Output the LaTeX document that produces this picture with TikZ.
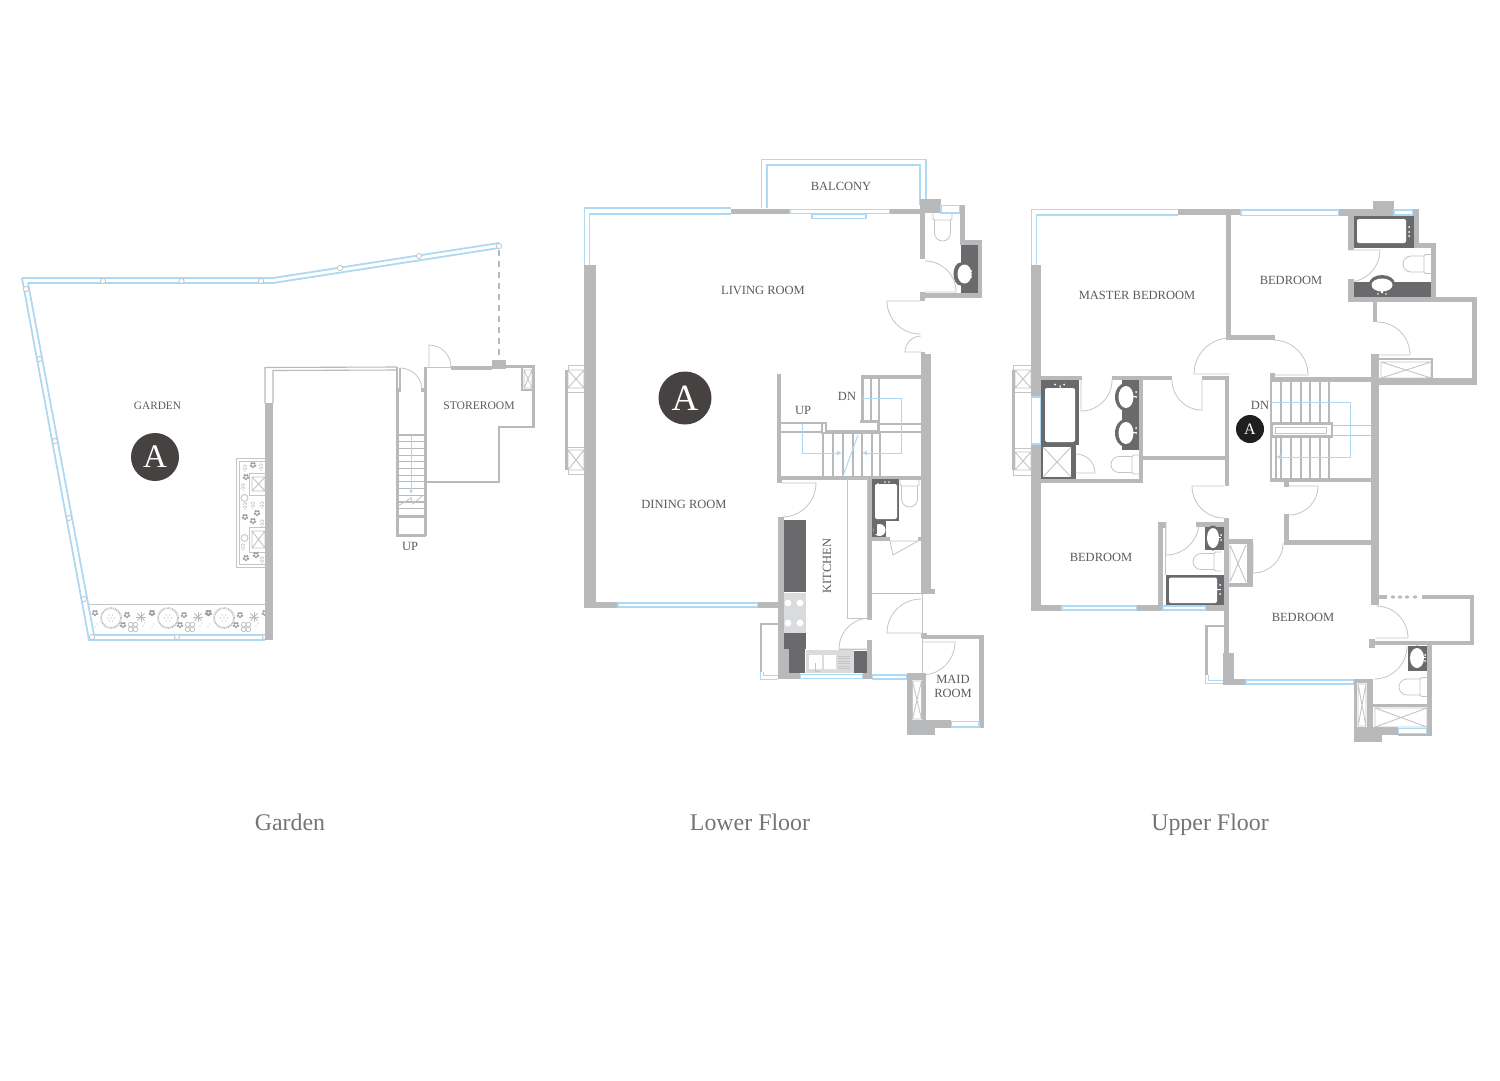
\documentclass[tikz,border=0pt]{standalone}
\usepackage{fontspec}
\usetikzlibrary{arrows.meta}
\setmainfont{Liberation Serif}
\definecolor{wallc}{HTML}{B8B9BB}
\definecolor{darkc}{HTML}{6A6A6D}
\definecolor{bluec}{HTML}{AFD9F2}
\definecolor{thinc}{HTML}{C4C5C7}
\definecolor{textc}{HTML}{5B5B5D}
\definecolor{titlec}{HTML}{757577}
\definecolor{badgec}{HTML}{464242}
\definecolor{floorc}{HTML}{DADBDC}
\tikzset{
 thinl/.style={draw=thinc,line width=0.9pt},
 wl/.style={draw=wallc,line width=1.6pt},
 bl/.style={draw=bluec,line width=1.4pt},
 blg/.style={draw=bluec,line width=1.8pt},
 blt/.style={draw=bluec,line width=1pt},
 doorl/.style={draw=thinc,line width=0.8pt},
 roomlab/.style={text=textc,font=\fontsize{12.5}{13}\selectfont,inner sep=0pt,align=center},
 title/.style={text=titlec,font=\fontsize{23.9}{25}\selectfont,inner sep=0pt,anchor=base},
 bdg/.style={circle,fill=badgec,text=white,inner sep=0pt},
 post/.style={draw=thinc,fill=white,line width=0.8pt},
 flowc/.style={fill=wallc!85!black}
}
\newcommand\WL[4]{\fill[wallc] (#1,#2) rectangle (#3,#4);}
\newcommand\DK[4]{\fill[darkc] (#1,#2) rectangle (#3,#4);}
\newcommand\WN[4]{\draw[bl,fill=white] (#1,#2) rectangle (#3,#4);}
\newcommand\Door[5]{\draw[doorl] (#1,#2) -- ++(#3:#5) arc[start angle=#3,end angle=#4,radius=#5];}
\newcommand\XBox[4]{\draw[thinl] (#1,#2) rectangle (#3,#4) (#1,#2) -- (#3,#4) (#1,#4) -- (#3,#2);}
\newcommand\Post[2]{\draw[post] (#1,#2) circle[radius=2.6];}
\newcommand\ToiletD[3]{\begin{scope}[shift={(#1,#2)},rotate=#3]
 \draw[doorl,rounded corners=1.5pt] (-9.5,0) -- (-9.5,7) -- (9.5,7) -- (9.5,0);
 \draw[doorl] (-8,7) -- (-8,20) arc[start angle=180,end angle=0,radius=8] -- (8,7);
 \end{scope}}
\newcommand\Sink[6]{\fill[darkc] (#1,#2) ellipse[x radius=#3,y radius=#4];
 \fill[white] (#1+#5,#2) ellipse[x radius=#3-2,y radius=#4-2.5];
 \fill[white] (#1+#5+1,#2-1) rectangle (#1+#5+#6,#2);}
\newcommand\Fl[2]{\foreach \a in {0,72,...,288}{\fill[flowc] (#1,#2) ++(\a+90:2.1) circle[radius=1.35];}}
\newcommand\Sp[2]{\fill[flowc] (#1-1.6,#2-2) circle[radius=.6] (#1+1.2,#2-2) circle[radius=.6] (#1-1.6,#2+1) circle[radius=.6] (#1+1.2,#2+1) circle[radius=.6] (#1,#2-3) circle[radius=.6] (#1,#2) circle[radius=.6] (#1,#2+3) circle[radius=.6];}
\newcommand\Star[2]{\foreach \a in {0,45,...,315}{\draw[wallc,line width=.9pt] (#1,#2) -- ++(\a:5);}}
\newcommand\Clv[2]{\foreach \dx/\dy in {-2.4/-2.4,2.4/-2.4,-2.4/2.4,2.4/2.4}{\draw[wallc,line width=.6pt] (#1+\dx,#2+\dy) circle[radius=2.4];}}
\newcommand\Wreath[2]{\draw[wallc,line width=.9pt,densely dotted] (#1,#2) circle[radius=10.5];
 \draw[wallc,line width=.5pt] (#1,#2) circle[radius=9.5];
 \foreach \a in {0,60,...,300}{\fill[wallc] (#1,#2) ++(\a:3.5) circle[radius=.7];}\fill[wallc] (#1,#2) circle[radius=.7];}
\newcommand\Bed[3]{\Wreath{#1}{#2}\Fl{#1-16}{#2-5}\Fl{#1+16}{#2-3}\Star{#1+30}{#2-1}\Fl{#1+41}{#2-5}\Fl{#1+12}{#2+7}\Clv{#1+22}{#2+9}
 \fill[wallc] (#1-16,#2+9) circle[radius=.6] (#1-14,#2+6) circle[radius=.6] (#1+4,#2+9) circle[radius=.6] (#1+32,#2+8) circle[radius=.6] (#1+34,#2+5) circle[radius=.6];}
\begin{document}
\begin{tikzpicture}[x=1pt,y=-1pt]
\useasboundingbox (0,0) rectangle (1500,1080);
\fill[white] (0,0) rectangle (1500,1080);
%%%%%%%%%% GARDEN
\draw[blg,line join=miter] (22,278) -- (273,278) -- (499,243);
\draw[blg] (28,283) -- (273,283) -- (499,248);
\draw[blg] (22,278) -- (89,640) -- (265,640);
\draw[blg] (28,283) -- (94,635) -- (265,635);
\draw[wallc,line width=1.6pt,dashed,dash pattern=on 6pt off 5pt] (499,250) -- (499,360);
\foreach \px/\py in {103/281,181.5/281,261/281,340/268,419/256,499/246,26/289,39.5/359,55/441,69/518,84/599,92/637,177/637,265/637}{\Post{\px}{\py}}
\draw[thinl] (89,604) -- (265,604);
\Bed{111}{618}{} \Bed{168}{618}{} \Bed{224}{618}{}
% side planter
\draw[thinl] (265,458) -- (236,458) -- (236,567) -- (265,567);
\draw[thinl] (265,461) -- (239,461) -- (239,564) -- (265,564);
\draw[thinl] (249,473) rectangle (265,495);
\XBox{252}{477}{265}{491}
\draw[thinl] (249,527) rectangle (265,552);
\XBox{252}{531}{265}{548}
\foreach \px/\py in {253/465,246/477,245/517,257/513,253/521,246/558,256/555}{\Fl{\px}{\py}}
\foreach \px/\py in {245/468,261/467,243/487,245/506,253/505,262/505,243/547,262/523,262/560}{\Sp{\px}{\py}}
\draw[thinl] (244.5,498) circle[radius=3.5];
\draw[thinl] (244.5,538) circle[radius=3.5];
% garden house walls
\WL{265}{403}{273}{640}
\draw[wl,line width=1.1pt] (265,403) -- (265,367.5) -- (397,367);
\draw[wl,line width=1.1pt] (273,403) -- (273,370.5) -- (397,370);
% stair shaft
\WL{396}{390}{399}{536} \WL{424}{367}{427}{536}
\draw[wl,line width=1.1pt] (397,367) -- (397,390) (400,368) -- (400,390);
\WL{396}{388}{401}{392} \WL{421}{388}{426}{392}
\Door{400}{390}{270}{360}{22}
\foreach \n in {0,...,11}{\draw[wl,line width=1.1pt] (397,435+\n*6.7) -- (425,435+\n*6.7);}
\WL{396}{515}{426}{518} \WL{396}{534}{426}{537}
\draw[thinl] (398,506) -- (411,498) -- (413,504) -- (423,495);
\draw[blt,-{Latex[length=4pt,width=4pt]}] (411,436) -- (411,494);
% storeroom
\draw[doorl] (426,367) -- (451,367);
\Door{429}{367}{270}{360}{22}
\WL{451}{366}{492}{370} \WL{492}{360}{506}{369} \WL{506}{365}{535}{368}
\WL{532}{365}{535}{428} \WL{498}{426}{535}{428} \WL{498}{426}{500}{483} \WL{426}{481}{500}{483}
\WL{521}{367}{523}{391} \WL{521}{389}{533}{391}
\draw[thinl] (524,370) rectangle (532,388) (524,370) -- (532,388) (524,388) -- (532,370);
\WL{425}{367}{427}{372}
\node[roomlab,font=\fontsize{11.3}{12}\selectfont] (lgarden) at (157.5,405.5) {GARDEN};
\node[bdg,minimum size=48pt,font=\fontsize{33}{33}\selectfont] (bgarden) at (155,457) {A};
\node[roomlab,font=\fontsize{11.6}{12}\selectfont] (lstore) at (479,405.5) {STOREROOM};
\node[roomlab] (lupg) at (410,546) {UP};
\node[title] (tgarden) at (290,830) {Garden};
%%%%%%%%%% LOWER FLOOR
% balcony & glazing
\draw[bl] (761.5,208) -- (761.5,159.5) -- (926,159.5) -- (926,199);
\draw[bl] (767,208) -- (767,165) -- (920,165) -- (920,205);
\draw[bl] (731,208) -- (584.5,208) -- (584.5,265);
\draw[bl] (731,214) -- (589.5,214) -- (589.5,265);
\WL{584}{265}{596}{608} \WL{584}{602}{618}{608}
\WN{618}{603}{758}{607}
\WL{758}{602}{778}{608}
\WL{731}{209}{790}{214}
\WN{790}{209.5}{890}{213.5}
\WN{812}{214}{866}{218.5}
\WL{890}{209}{920}{214}
\WL{920}{199}{941}{213}
\WN{941}{205.5}{960}{213}
\WL{960}{205}{965}{240} \WL{960}{240}{982}{245} \WL{978}{240}{982}{298}
\WL{925}{293}{982}{298}
\DK{961}{245}{978}{293}
\fill[darkc] (960.5,274) ellipse[x radius=7,y radius=11.5];
\fill[white] (964.5,274) ellipse[x radius=7,y radius=9.5];
\fill[white] (965,273.5) rectangle (972,274.5) (971,271) circle[radius=1] (971,277) circle[radius=1];
\WL{920}{213}{925}{259} \WL{920}{292}{925}{301}
\ToiletD{942.5}{213}{0}
\Door{925}{292}{0}{-90}{31}
\Door{920}{301}{180}{90}{33}
\Door{921}{352}{180}{270}{16}
\WL{921}{354}{931}{589} \WL{921}{352}{925}{356} \WL{921}{589}{935}{594} \WL{921}{589}{925}{594}
% left planter
\draw[thinl] (584,365) -- (568,365) -- (568,370) (584,474) -- (568,474) -- (568,470) (584,392) -- (568,392) (584,447) -- (568,447);
\WL{565}{370}{568}{470}
\XBox{568}{370}{584}{388}
\XBox{568}{450}{584}{470}
% stairs lower
\WL{777}{374}{781}{483}
\WL{781}{422}{825}{424} \WL{781}{431}{821}{433}
\WL{821}{422}{823}{433} \WL{825}{422}{827}{431}
\WL{825}{430}{879}{432} \WL{821}{432}{879}{433.5}
\WL{877}{420}{879}{432} \WL{860}{420}{879}{423}
\WL{861}{375}{864}{423} \WL{861}{375}{921}{379}
\WL{870}{379}{872}{421} \WL{878}{379}{880}{431}
\WL{879}{423}{921}{425} \WL{879}{431}{921}{433}
\foreach \sx in {822,832,842,852,861,871,879}{\WL{\sx}{433}{\sx+1.8}{477}}
\WL{777}{476}{921}{480}
\draw[blt] (843,476) -- (858,435);
\draw[blt,-{Latex[length=5pt,width=5pt]}] (862,398) -- (901,398) -- (901,453) -- (862,453);
\draw[blt,-{Latex[length=5pt,width=5pt]}] (802,423) -- (802,453) -- (842,453);
% kitchen
\WL{777}{480}{782}{483}
\Door{782}{483}{0}{90}{34}
\WL{778}{517}{784}{678}
\DK{784}{520}{806}{592}
\fill[floorc] (784,593) rectangle (806,633);
\foreach \px/\py in {788/603,800/603,788/623,800/623}{\fill[white] (\px,\py) circle[radius=3.4];}
\DK{784}{633}{806}{649} \DK{789}{649}{805}{673}
\WL{778}{649}{789}{678} \WL{778}{673}{800}{679}
\WN{800.5}{674.5}{863}{678.5}
\WL{863}{673}{872}{679}
\WN{872.5}{675}{907}{679}
\fill[floorc] (806,650) rectangle (854,673);
\fill[white] (809,655) rectangle (822,669) (824,655) rectangle (836,669);
\foreach \n in {0,...,5}{\draw[thinc,line width=.6pt] (838,656+\n*2.5) -- (850,656+\n*2.5);}
\draw[thinl,line width=.6pt] (815,663) -- (815,671) -- (820,671);
\DK{854}{651}{867}{673}
\WL{867}{478}{872}{620} \WL{867}{640}{872}{678}
\Door{870}{649}{180}{270}{31}
\draw[doorl] (839,649) -- (867,649);
\draw[doorl] (847,478) rectangle (867,618);
% wc lower
\DK{872}{479}{899}{521}
\fill[white,rounded corners=2pt] (875,484) rectangle (897,519);
\DK{872}{521}{886}{537}
\fill[white] (879.5,530) ellipse[x radius=6,y radius=6];
\fill[darkc] (874,525) rectangle (876.5,534);
\fill[white] (878,484) circle[radius=.8] (885,482) circle[radius=.8] (889,482) circle[radius=.8];
\WL{872}{537}{890}{541} \WL{918}{537}{921}{541}
\draw[doorl] (890,541) -- (918,541) (890,541) -- (893,555) -- (918,541);
\ToiletD{909.5}{479}{0}
\draw[wl,line width=1.3pt] (872,593.5) -- (921,593.5);
\Door{921}{633}{180}{270}{34}
\draw[thinl] (922,594) -- (922,678);
\WL{921}{633}{927}{638} \WL{922}{635}{984}{639} \WL{979}{635}{984}{728}
\Door{922}{642}{0}{90}{33}
\WL{907}{673}{926}{680} \WL{907}{673}{912}{735} \WL{922}{680}{926}{722}
\XBox{912.5}{681}{921.5}{719}
\WL{907}{720}{935}{735} \WL{935}{720}{951}{728} \WL{951}{726}{984}{728}
\WN{951.5}{721.5}{979}{727}
% small kitchen balcony
\WL{759}{603}{778}{608}
\WL{760}{623}{778}{625} \WL{760}{623}{762}{672}
\draw[blt] (760.5,672) -- (760.5,679) -- (778,679) (763,672) -- (763,675.5) -- (778,675.5);
\node[roomlab] (lbal) at (841,186) {BALCONY};
\node[roomlab] (lliv) at (763,290) {LIVING ROOM};
\node[roomlab] (ldin) at (684,504) {DINING ROOM};
\node[roomlab,rotate=90] (lkit) at (827,566) {KITCHEN};
\node[roomlab] (lupl) at (803,410) {UP};
\node[roomlab] (ldnl) at (847,396) {DN};
\node[roomlab,font=\fontsize{12.5}{14}\selectfont] (lmaid) at (953,686) {MAID\\ROOM};
\node[bdg,minimum size=53pt,font=\fontsize{37}{37}\selectfont] (blower) at (685,398) {A};
\node[title] (tlower) at (750,830) {Lower Floor};
%%%%%%%%%% UPPER FLOOR
\draw[bl] (1178,209.5) -- (1031.5,209.5) -- (1031.5,265);
\draw[bl] (1178,215) -- (1036.5,215) -- (1036.5,265);
\WL{1031}{265}{1041}{611}
\WN{1031.5}{397}{1040.5}{444}
\WL{1178}{209}{1241}{215}
\WN{1241}{210}{1339}{215.5}
\WL{1339}{209}{1413}{216}
\WL{1373}{201}{1394}{210}
\WN{1394}{210}{1413}{215}
\WL{1413}{209}{1419}{248} \WL{1413}{243}{1436}{248} \WL{1431}{243}{1436}{302}
\DK{1354}{216}{1414}{248}
\fill[white,rounded corners=2pt] (1357,219) rectangle (1406,243);
\fill[white] (1406,230) rectangle (1403,231) (1409,227) circle[radius=1] (1409,232) circle[radius=1] (1409,236) circle[radius=1];
\WL{1348}{215}{1354}{250}
\Door{1348}{250}{0}{90}{32}
\WL{1348}{279}{1354}{302}
\DK{1354}{282}{1431}{297}
\fill[darkc] (1382,284) ellipse[x radius=13,y radius=9];
\fill[white] (1382,285) ellipse[x radius=10.5,y radius=6.5];
\fill[white] (1381,285) rectangle (1383,293) (1378,294) circle[radius=.9] (1386,294) circle[radius=.9];
\ToiletD{1431}{264}{-90}
\WL{1348}{297}{1477}{302} \WL{1472}{297}{1477}{385} \WL{1372}{378}{1477}{385}
\WL{1373}{302}{1377}{322}
\Door{1377}{355}{0}{-90}{33}
\WL{1371}{354}{1379}{605}
\WL{1377}{358}{1433}{360} \WL{1431}{358}{1433}{378}
\draw[thinl] (1381,362) rectangle (1431,378) (1381,362) -- (1431,378) (1381,378) -- (1431,362);
% walls centre
\WL{1226}{215}{1231}{340} \WL{1226}{335}{1275}{340}
\Door{1273}{375}{0}{-90}{35}
\WL{1270}{373}{1275}{382} \WL{1270}{377}{1372}{382}
% stairs upper
\WL{1270}{382}{1272}{482}
\foreach \sx in {1281,1291,1301,1310,1320,1329}{\WL{\sx-.8}{382}{\sx+.8}{422}\WL{\sx-.8}{438}{\sx+.8}{478}}
\WL{1275}{438}{1276.5}{478}
\draw[wl,line width=2.6pt] (1272,423.5) rectangle (1332,436.5);
\draw[thinl] (1275,427) rectangle (1326,433);
\draw[thinl] (1332,425) -- (1372,425) (1332,435) -- (1372,435);
\WL{1270}{478}{1372}{482}
\draw[blt,-{Latex[length=5pt,width=5pt]}] (1272,402) -- (1350,402) -- (1350,457) -- (1276,457);
\WL{1284}{482}{1289}{487}
\Door{1289}{486}{0}{90}{29}
\WL{1284}{514}{1289}{545} \WL{1284}{540}{1372}{545}
\Door{1253}{543}{90}{0}{30}
% master bedroom
\WL{1227}{215}{1231}{340} \WL{1231}{335}{1240}{339}
\Door{1230}{374}{180}{270}{36}
\WL{1041}{376}{1082}{380} \WL{1112}{376}{1172}{380} \WL{1202}{376}{1229}{380}
\Door{1202}{380}{90}{180}{30}
\Door{1081}{380}{90}{0}{31}
\WL{1225}{376}{1229}{486} \WL{1139}{378}{1143}{483}
\WL{1143}{456}{1225}{460} \WL{1041}{479}{1143}{483}
\DK{1041}{380}{1079}{445}
\fill[white,rounded corners=2pt] (1045,388) rectangle (1075,442);
\fill[white] (1059.5,385) rectangle (1060.5,393) (1055,384.5) circle[radius=1] (1064,384.5) circle[radius=1];
\DK{1041}{445}{1076}{479}
\fill[white] (1043,447) rectangle (1071,477);
\draw[thinl] (1043,447) -- (1071,477) (1043,477) -- (1071,447);
\Door{1076}{473}{0}{-90}{19}
\DK{1122}{380}{1139}{450}
\Sink{1124.5}{397}{9.5}{13.5}{1.5}{10}
\Sink{1124.5}{433}{9.5}{13.5}{1.5}{10}
\fill[white] (1136,392) circle[radius=1] (1136,397) circle[radius=1] (1136,428) circle[radius=1] (1136,433) circle[radius=1];
\ToiletD{1139}{464.5}{-90}
% upper left planter
\draw[thinl] (1031,365) -- (1013,365) -- (1013,370) (1031,475) -- (1013,475) -- (1013,470) (1031,392) -- (1015,392) (1031,448) -- (1015,448);
\WL{1012}{370}{1015}{470}
\XBox{1015}{370}{1031}{388}
\XBox{1015}{452}{1031}{470}
% lower left bedroom
\WL{1031}{605}{1063}{611}
\WN{1062}{606}{1137}{610}
\WL{1137}{605}{1163}{611}
\WN{1163}{606}{1206}{610}
\WL{1206}{605}{1224}{611}
\WL{1158}{522}{1163}{606}\WL{1158}{522}{1166}{528}
\draw[thinl] (1165.5,528) -- (1165.5,575);
\Door{1166}{522}{90}{0}{33}
\WL{1196}{522}{1224}{527}
\DK{1205}{527}{1224}{550}
\Sink{1213}{538}{8}{12.5}{0}{8}
\fill[white] (1221,535) circle[radius=1] (1221,540) circle[radius=1];
\ToiletD{1221}{561.5}{-90}
\DK{1166}{575}{1224}{605}
\fill[white,rounded corners=2pt] (1169,577.5) rectangle (1217,603);
\fill[white] (1213,589) rectangle (1221,590) (1220,585) circle[radius=1] (1220,594) circle[radius=1];
\Door{1224}{486}{180}{90}{32}
\WL{1224}{518}{1229}{685}
\WL{1229}{539}{1253}{544} \WL{1250}{539}{1253}{587} \WL{1229}{583}{1253}{587}
\WL{1247}{544}{1250}{583}
\draw[thinl] (1230,545) -- (1246,582) (1230,582) -- (1246,545) (1230,545) -- (1230,582);
% balcony bottom-left
\WL{1205}{625}{1224}{627} \WL{1205}{625}{1208}{675}
\draw[blt] (1205.5,675) -- (1205.5,683.5) -- (1224,683.5) (1208.5,675) -- (1208.5,680) -- (1224,680);
\WL{1223}{653}{1234}{685} \WL{1234}{679}{1246}{685}
\WN{1246}{680}{1354}{684}
% bedroom bottom right
\WL{1354}{679}{1373}{683} \WL{1354}{683}{1357}{727} \WL{1367}{683}{1373}{727}
\XBox{1358}{684}{1366}{726}
\WL{1354}{727}{1382}{742} \WL{1382}{727}{1398}{735}
\WN{1398.5}{728.5}{1427}{734}
\WL{1427}{645}{1432}{736} \WL{1398}{733.5}{1432}{736}
\WL{1369}{639}{1375}{648} \WL{1375}{641}{1474}{645} \WL{1470}{595}{1474}{645}
\WL{1372}{595}{1387}{599} \WL{1422}{595}{1474}{599}
\foreach \dx in {1393,1400,1407,1415}{\fill[wallc] (\dx,597) ellipse[x radius=2.2,y radius=1.6];}
\Door{1376}{638}{0}{-90}{32}
\draw[doorl] (1407,646) arc[start angle=0,end angle=90,radius=33];
\DK{1408}{646}{1427}{671}
\Sink{1417}{658}{9}{12.5}{0}{9}
\fill[white] (1425,655) circle[radius=1] (1425,661) circle[radius=1];
\ToiletD{1427}{687}{-90}
\WL{1373}{704}{1427}{707}
\draw[thinl] (1375,708) rectangle (1427,727) (1375,727) -- (1427,708) (1375,708) -- (1427,727);
\node[roomlab] (lmb) at (1137,295) {MASTER BEDROOM};
\node[roomlab] (lb1) at (1291,280) {BEDROOM};
\node[roomlab] (lb2) at (1101,557) {BEDROOM};
\node[roomlab] (lb3) at (1303,617) {BEDROOM};
\node[roomlab] (ldnu) at (1260,405) {DN};
\node[bdg,fill=black!88,minimum size=28pt,font=\fontsize{16}{16}\selectfont] (bupper) at (1250,429) {A};
\node[title] (tupper) at (1210,830) {Upper Floor};
\end{tikzpicture}
\end{document}
